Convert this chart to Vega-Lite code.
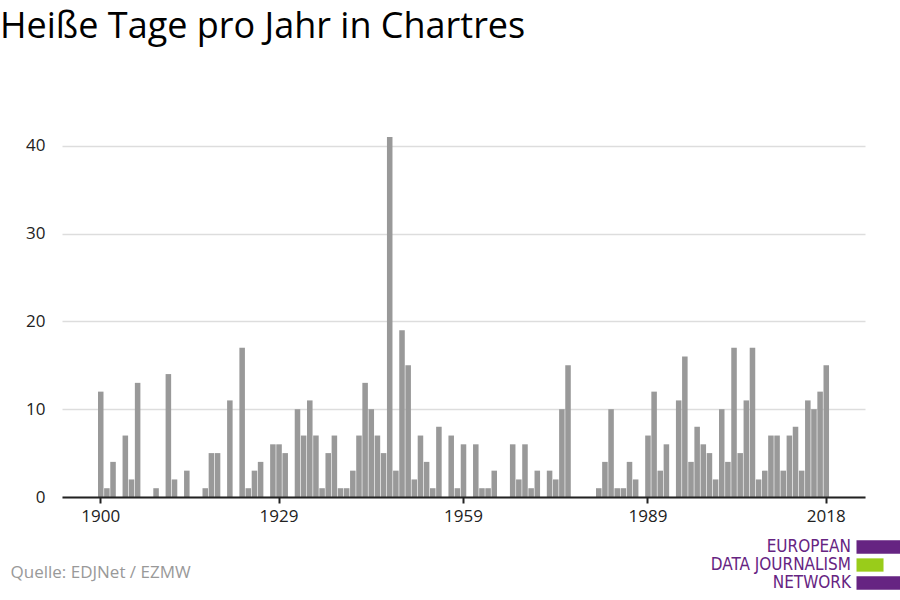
{
  "$schema": "https://vega.github.io/schema/vega-lite/v6.json",
  "width": 803,
  "height": 360,
  "autosize": {"type": "none"},
  "padding": {"left": 62, "top": 137, "right": 35, "bottom": 103},
  "title": {
    "text": "Heiße Tage pro Jahr in Chartres",
    "anchor": "start",
    "frame": "group",
    "dx": -62,
    "offset": 63,
    "baseline": "alphabetic",
    "font": "Open Sans",
    "fontSize": 36,
    "fontWeight": "normal",
    "color": "#000000"
  },
  "config": {
    "view": {"stroke": null},
    "font": "Open Sans"
  },
  "layer": [
    {
      "data": {
        "values": [
          {"year": 1900, "days": 12}, {"year": 1901, "days": 1}, {"year": 1902, "days": 4}, {"year": 1903, "days": 0},
          {"year": 1904, "days": 7}, {"year": 1905, "days": 2}, {"year": 1906, "days": 13}, {"year": 1907, "days": 0},
          {"year": 1908, "days": 0}, {"year": 1909, "days": 1}, {"year": 1910, "days": 0}, {"year": 1911, "days": 14},
          {"year": 1912, "days": 2}, {"year": 1913, "days": 0}, {"year": 1914, "days": 3}, {"year": 1915, "days": 0},
          {"year": 1916, "days": 0}, {"year": 1917, "days": 1}, {"year": 1918, "days": 5}, {"year": 1919, "days": 5},
          {"year": 1920, "days": 0}, {"year": 1921, "days": 11}, {"year": 1922, "days": 0}, {"year": 1923, "days": 17},
          {"year": 1924, "days": 1}, {"year": 1925, "days": 3}, {"year": 1926, "days": 4}, {"year": 1927, "days": 0},
          {"year": 1928, "days": 6}, {"year": 1929, "days": 6}, {"year": 1930, "days": 5}, {"year": 1931, "days": 0},
          {"year": 1932, "days": 10}, {"year": 1933, "days": 7}, {"year": 1934, "days": 11}, {"year": 1935, "days": 7},
          {"year": 1936, "days": 1}, {"year": 1937, "days": 5}, {"year": 1938, "days": 7}, {"year": 1939, "days": 1},
          {"year": 1940, "days": 1}, {"year": 1941, "days": 3}, {"year": 1942, "days": 7}, {"year": 1943, "days": 13},
          {"year": 1944, "days": 10}, {"year": 1945, "days": 7}, {"year": 1946, "days": 5}, {"year": 1947, "days": 41},
          {"year": 1948, "days": 3}, {"year": 1949, "days": 19}, {"year": 1950, "days": 15}, {"year": 1951, "days": 2},
          {"year": 1952, "days": 7}, {"year": 1953, "days": 4}, {"year": 1954, "days": 1}, {"year": 1955, "days": 8},
          {"year": 1956, "days": 0}, {"year": 1957, "days": 7}, {"year": 1958, "days": 1}, {"year": 1959, "days": 6},
          {"year": 1960, "days": 0}, {"year": 1961, "days": 6}, {"year": 1962, "days": 1}, {"year": 1963, "days": 1},
          {"year": 1964, "days": 3}, {"year": 1965, "days": 0}, {"year": 1966, "days": 0}, {"year": 1967, "days": 6},
          {"year": 1968, "days": 2}, {"year": 1969, "days": 6}, {"year": 1970, "days": 1}, {"year": 1971, "days": 3},
          {"year": 1972, "days": 0}, {"year": 1973, "days": 3}, {"year": 1974, "days": 2}, {"year": 1975, "days": 10},
          {"year": 1976, "days": 15}, {"year": 1977, "days": 0}, {"year": 1978, "days": 0}, {"year": 1979, "days": 0},
          {"year": 1980, "days": 0}, {"year": 1981, "days": 1}, {"year": 1982, "days": 4}, {"year": 1983, "days": 10},
          {"year": 1984, "days": 1}, {"year": 1985, "days": 1}, {"year": 1986, "days": 4}, {"year": 1987, "days": 2},
          {"year": 1988, "days": 0}, {"year": 1989, "days": 7}, {"year": 1990, "days": 12}, {"year": 1991, "days": 3},
          {"year": 1992, "days": 6}, {"year": 1993, "days": 0}, {"year": 1994, "days": 11}, {"year": 1995, "days": 16},
          {"year": 1996, "days": 4}, {"year": 1997, "days": 8}, {"year": 1998, "days": 6}, {"year": 1999, "days": 5},
          {"year": 2000, "days": 2}, {"year": 2001, "days": 10}, {"year": 2002, "days": 4}, {"year": 2003, "days": 17},
          {"year": 2004, "days": 5}, {"year": 2005, "days": 11}, {"year": 2006, "days": 17}, {"year": 2007, "days": 2},
          {"year": 2008, "days": 3}, {"year": 2009, "days": 7}, {"year": 2010, "days": 7}, {"year": 2011, "days": 3},
          {"year": 2012, "days": 7}, {"year": 2013, "days": 8}, {"year": 2014, "days": 3}, {"year": 2015, "days": 11},
          {"year": 2016, "days": 10}, {"year": 2017, "days": 12}, {"year": 2018, "days": 15}
        ]
      },
      "mark": {"type": "bar", "color": "#999999"},
      "encoding": {
        "x": {
          "field": "year",
          "type": "ordinal",
          "scale": {
            "domain": [1895, 1896, 1897, 1898, 1899, 1900, 1901, 1902, 1903, 1904, 1905, 1906, 1907, 1908, 1909,
              1910, 1911, 1912, 1913, 1914, 1915, 1916, 1917, 1918, 1919, 1920, 1921, 1922, 1923, 1924, 1925,
              1926, 1927, 1928, 1929, 1930, 1931, 1932, 1933, 1934, 1935, 1936, 1937, 1938, 1939, 1940, 1941,
              1942, 1943, 1944, 1945, 1946, 1947, 1948, 1949, 1950, 1951, 1952, 1953, 1954, 1955, 1956, 1957,
              1958, 1959, 1960, 1961, 1962, 1963, 1964, 1965, 1966, 1967, 1968, 1969, 1970, 1971, 1972, 1973,
              1974, 1975, 1976, 1977, 1978, 1979, 1980, 1981, 1982, 1983, 1984, 1985, 1986, 1987, 1988, 1989,
              1990, 1991, 1992, 1993, 1994, 1995, 1996, 1997, 1998, 1999, 2000, 2001, 2002, 2003, 2004, 2005,
              2006, 2007, 2008, 2009, 2010, 2011, 2012, 2013, 2014, 2015, 2016, 2017, 2018, 2019, 2020, 2021,
              2022, 2023],
            "paddingInner": 0.1,
            "paddingOuter": 0.85
          },
          "axis": {
            "values": [1900, 1929, 1959, 1989, 2018],
            "labelAngle": 0,
            "labelFont": "Open Sans",
            "labelFontSize": 17,
            "labelColor": "#222222",
            "labelPadding": 5,
            "tickColor": "#222222",
            "tickSize": 6,
            "tickWidth": 2,
            "domainColor": "#222222",
            "domainWidth": 2,
            "grid": false,
            "zindex": 1,
            "title": "Quelle: EDJNet / EZMW",
            "titleFont": "Open Sans",
            "titleFontSize": 17,
            "titleFontWeight": "normal",
            "titleColor": "#999999",
            "titleAnchor": "start",
            "titleAlign": "left",
            "titleX": -52,
            "titleY": 80,
            "titleBaseline": "alphabetic"
          }
        },
        "y": {
          "field": "days",
          "type": "quantitative",
          "scale": {"domain": [0, 41], "nice": false, "zero": true},
          "axis": {
            "values": [0, 10, 20, 30, 40],
            "ticks": false,
            "domain": false,
            "gridColor": "#dddddd",
            "gridWidth": 1.5,
            "labelFont": "Open Sans",
            "labelFontSize": 17,
            "labelColor": "#222222",
            "labelPadding": 17,
            "title": null
          }
        }
      }
    },
    {
      "data": {
        "values": [
          {"logo": "EUROPEAN"},
          {"logo": "DATA JOURNALISM"},
          {"logo": "NETWORK"}
        ]
      },
      "mark": {"type": "point", "filled": true, "opacity": 1, "size": 0},
      "encoding": {
        "color": {
          "field": "logo",
          "type": "nominal",
          "scale": {
            "domain": ["EUROPEAN", "DATA JOURNALISM", "NETWORK"],
            "range": ["#662482", "#99cc1a", "#662482"]
          },
          "legend": {
            "orient": "none",
            "legendX": 793,
            "legendY": 401.5,
            "title": null,
            "padding": 0,
            "symbolSize": 196,
            "symbolOpacity": 1,
            "symbolStrokeWidth": 0,
            "rowPadding": 0,
            "labelAlign": "right",
            "labelOffset": -21,
            "labelFont": "Liberation Sans Narrow, DejaVu Sans Condensed, Roboto",
            "labelFontSize": 17,
            "labelColor": "#662482",
            "labelLimit": 0,
            "labelBaseline": "middle"
          }
        },
        "shape": {
          "field": "logo",
          "type": "nominal",
          "scale": {
            "domain": ["EUROPEAN", "DATA JOURNALISM", "NETWORK"],
            "range": ["M-1,-0.95L5.5,-0.95L5.5,0.95L-1,0.95Z", "M-1,-0.95L2.86,-0.95L2.86,0.95L-1,0.95Z", "M-1,-0.95L5.5,-0.95L5.5,0.95L-1,0.95Z"]
          },
          "legend": {
            "orient": "none",
            "legendX": 793,
            "legendY": 401.5,
            "title": null,
            "padding": 0,
            "symbolSize": 196,
            "symbolOpacity": 1,
            "symbolStrokeWidth": 0,
            "rowPadding": 0,
            "labelAlign": "right",
            "labelOffset": -21,
            "labelFont": "Liberation Sans Narrow, DejaVu Sans Condensed, Roboto",
            "labelFontSize": 17,
            "labelColor": "#662482",
            "labelLimit": 0,
            "labelBaseline": "middle"
          }
        }
      }
    }
  ]
}
